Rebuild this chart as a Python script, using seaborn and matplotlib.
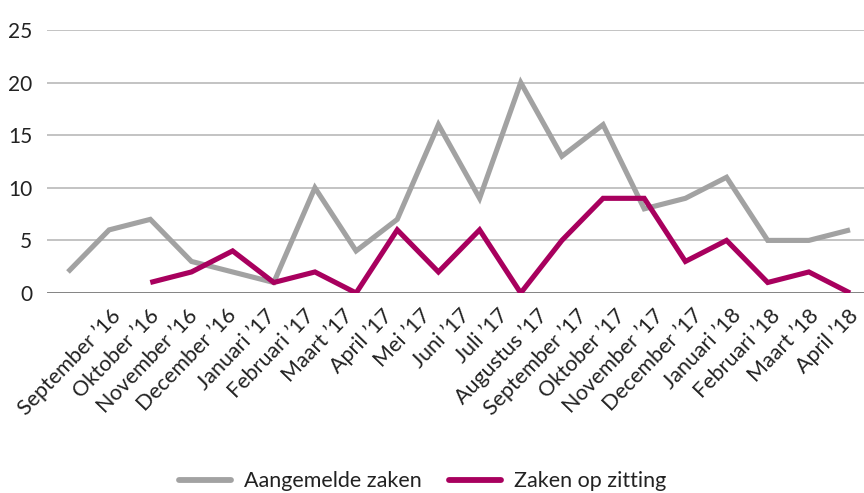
import matplotlib
matplotlib.use("Agg")
import matplotlib.pyplot as plt
import seaborn as sns
import pandas as pd
import numpy as np
from matplotlib.lines import Line2D

months = ["September ’16", "Oktober ’16", "November ’16", "December ’16",
          "Januari ’17", "Februari ’17", "Maart ’17", "April ’17", "Mei ’17",
          "Juni ’17", "Juli ’17", "Augustus ’17", "September ’17", "Oktober ’17",
          "November ’17", "December ’17", "Januari ’18", "Februari ’18",
          "Maart ’18", "April ’18"]
aangemeld = [2, 6, 7, 3, 2, 1, 10, 4, 7, 16, 9, 20, 13, 16, 8, 9, 11, 5, 5, 6]
zitting = [np.nan, np.nan, 1, 2, 4, 1, 2, 0, 6, 2, 6, 0, 5, 9, 9, 3, 5, 1, 2, 0]
series_names = ["Aangemelde zaken", "Zaken op zitting"]
colors = ["#a2a2a2", "#a8005e"]
yticks = [0, 5, 10, 15, 20, 25]

sns.set_theme(style="white")
plt.rcParams['font.family'] = ['Lato', 'DejaVu Sans']

idx = np.arange(len(months))
df = pd.DataFrame({
    "x": np.concatenate([idx, idx]),
    "y": aangemeld + zitting,
    "serie": [series_names[0]] * len(months) + [series_names[1]] * len(months),
})

fig = plt.figure(figsize=(8.64, 4.93), dpi=100)
ax = fig.add_axes([47.4/864, 1 - 293/493, 823.2/864, (293 - 30)/493])

sns.lineplot(data=df, x="x", y="y", hue="serie", palette=colors,
             linewidth=3.7, ax=ax, legend=False, sort=False)
for l in ax.lines:
    l.set_solid_joinstyle("miter")
    l.set_solid_capstyle("butt")

ax.set_xlim(-0.5, len(months) - 0.5)
ax.set_ylim(0, 25)
ax.set_yticks(yticks)
ax.set_yticklabels([str(v) for v in yticks], fontsize=15, color="#222222")
# category labels are laid out slightly offset from the data points (as in reference)
label_pos = 1.02 + idx * 0.943
ax.set_xticks(label_pos)
ax.set_xticklabels(months, rotation=46, ha="right", va="top",
                   rotation_mode="anchor", fontsize=15.5, color="#222222")
ax.tick_params(axis="x", length=0, pad=9)
ax.tick_params(axis="y", length=0, pad=11)
ax.set_xlabel("")
ax.set_ylabel("")
for s in ax.spines.values():
    s.set_visible(False)
ax.yaxis.grid(True, color="#b3b3b3", linewidth=1.1)
ax.xaxis.grid(False)
ax.axhline(0, color="#7f7f7f", linewidth=2, zorder=1.5)
ax.set_axisbelow(True)

handles = [Line2D([0], [0], color=c, linewidth=4.2) for c in colors]
fig.legend(handles, series_names, loc="center", bbox_to_anchor=(0.489, 0.024),
           ncol=2, frameon=False, fontsize=15.5, handlelength=2.4,
           columnspacing=1.3, handletextpad=0.6,
           labelcolor="#222222")

fig.savefig("out.png", dpi=100)
